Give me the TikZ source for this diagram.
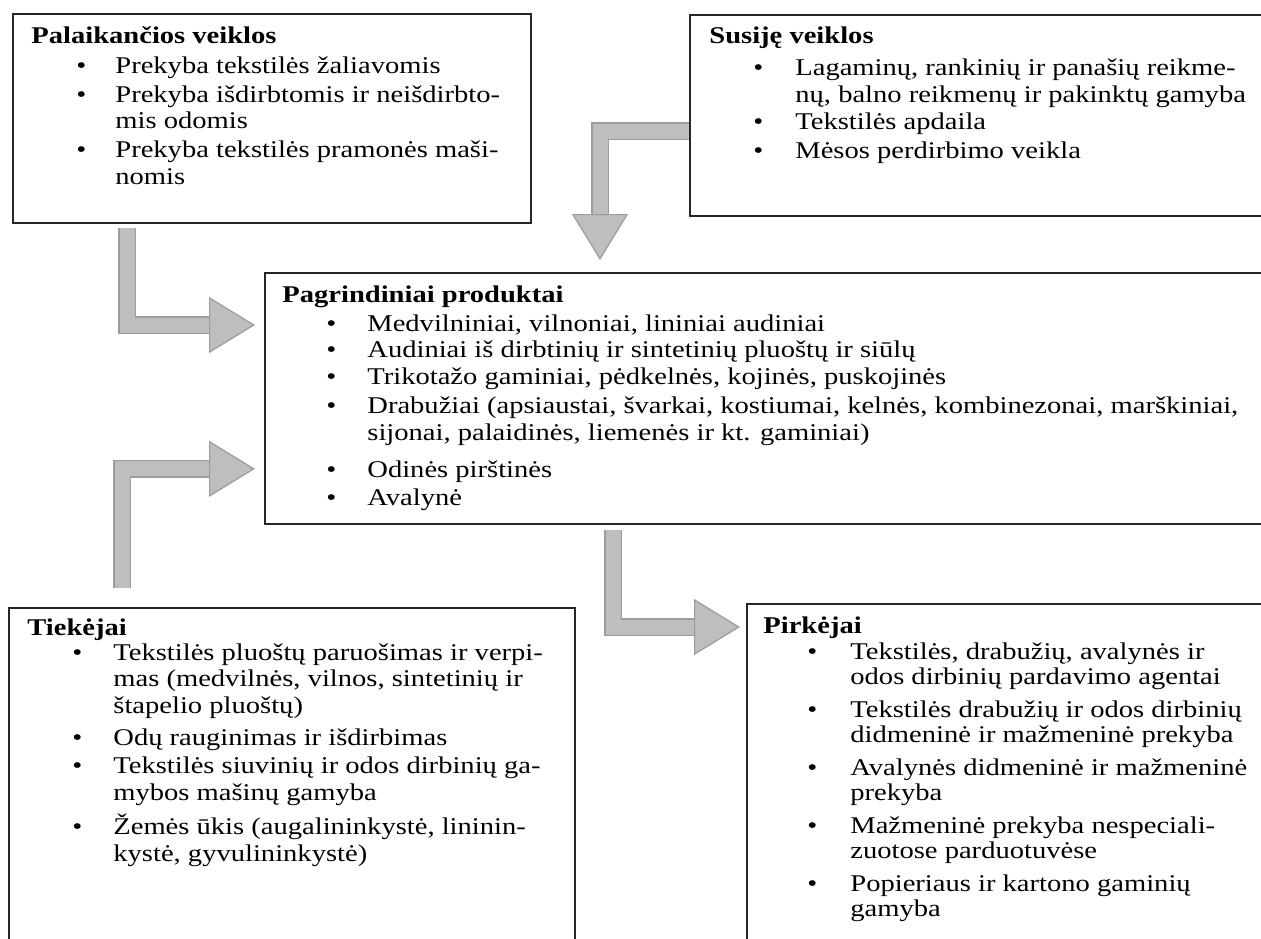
\documentclass[tikz,border=0pt]{standalone}
\usepackage{fontspec}
\setmainfont{Liberation Serif}[FakeStretch=1.19]
\usetikzlibrary{arrows.meta}
\definecolor{arrowfill}{HTML}{BEBEBE}
\definecolor{arrowedge}{HTML}{9C9C9C}

\begin{document}
\begin{tikzpicture}[
      x=0.5pt, y=-0.5pt,
      box/.style={draw=black!85, line width=0.9pt, inner sep=0pt, anchor=north west},
      txt/.style={inner sep=0pt, anchor=base west, font=\fontsize{12}{13.4}\selectfont},
      flow/.style={draw=arrowfill, line width=7.5pt, line join=miter,
        -{Triangle[length=23pt, width=28pt, line width=0.6pt, color=arrowedge, fill=arrowfill]},
        preaction={draw=arrowedge, line width=8.7pt, shorten >=20pt, -}}
    ]

    % page
    \useasboundingbox (0,0) rectangle (1261,938);
    \clip (0,0) rectangle (1261,938);
    \fill[white] (0,0) rectangle (1261,938);

    % boxes
    \node[box, minimum width=259pt, minimum height=104.5pt] (palaik) at (12,13) {};
    \node[box, minimum width=290.5pt, minimum height=100.5pt] (susije) at (689,14) {};
    \node[box, minimum width=503pt, minimum height=125.5pt] (produkt) at (264,272) {};
    \node[box, minimum width=283pt, minimum height=176.5pt] (tiekejai) at (8,607) {};
    \node[box, minimum width=262pt, minimum height=178.5pt] (pirkejai) at (746,603) {};

    % texts
    \node[txt] (palaiktxt) at (31,43) {\begin{tabular}[t]{@{}p{42pt}@{}l@{}}
      \multicolumn{2}{@{}l@{}}{\textbf{Palaikančios veiklos}}\\[1.6pt]
      \hspace*{22.5pt}\textbullet & Prekyba tekstilės žaliavomis\\[1.1pt]
      \hspace*{22.5pt}\textbullet & Prekyba išdirbtomis ir neišdirbto-\\
      & mis odomis\\[1.1pt]
      \hspace*{22.5pt}\textbullet & Prekyba tekstilės pramonės maši-\\
      & nomis
    \end{tabular}};

    \node[txt] (susijetxt) at (709,43) {\begin{tabular}[t]{@{}p{43pt}@{}l@{}}
      \multicolumn{2}{@{}l@{}}{\textbf{Susiję veiklos}}\\[3pt]
      \hspace*{22pt}\textbullet & Lagaminų, rankinių ir panašių reikme-\\
      & nų, balno reikmenų ir pakinktų gamyba\\[0pt]
      \hspace*{22pt}\textbullet & Tekstilės apdaila\\[1.1pt]
      \hspace*{22pt}\textbullet & Mėsos perdirbimo veikla
    \end{tabular}};

    \node[txt] (produkttxt) at (282,302) {\begin{tabular}[t]{@{}p{42.5pt}@{}l@{}}
      \multicolumn{2}{@{}l@{}}{\textbf{Pagrindiniai produktai}}\\[1.1pt]
      \hspace*{22pt}\textbullet & Medvilniniai, vilnoniai, lininiai audiniai\\[0pt]
      \hspace*{22pt}\textbullet & Audiniai iš dirbtinių ir sintetinių pluoštų ir siūlų\\[0pt]
      \hspace*{22pt}\textbullet & Trikotažo gaminiai, pėdkelnės, kojinės, puskojinės\\[1.1pt]
      \hspace*{22pt}\textbullet & Drabužiai (apsiaustai, švarkai, kostiumai, kelnės, kombinezonai, marškiniai,\\
      & sijonai, palaidinės, liemenės ir kt. gaminiai)\\[5pt]
      \hspace*{22pt}\textbullet & Odinės pirštinės\\[0.6pt]
      \hspace*{22pt}\textbullet & Avalynė
    \end{tabular}};

    \node[txt] (tiekejaitxt) at (27,635) {\begin{tabular}[t]{@{}p{43pt}@{}l@{}}
      \multicolumn{2}{@{}l@{}}{\textbf{Tiekėjai}}\\[-0.9pt]
      \hspace*{22.5pt}\textbullet & Tekstilės pluoštų paruošimas ir verpi-\\
      & mas (medvilnės, vilnos, sintetinių ir\\
      & štapelio pluoštų)\\[2.6pt]
      \hspace*{22.5pt}\textbullet & Odų rauginimas ir išdirbimas\\[0.6pt]
      \hspace*{22.5pt}\textbullet & Tekstilės siuvinių ir odos dirbinių ga-\\
      & mybos mašinų gamyba\\[2.6pt]
      \hspace*{22.5pt}\textbullet & Žemės ūkis (augalininkystė, lininin-\\
      & kystė, gyvulininkystė)
    \end{tabular}};

    \node[txt] (pirkejaitxt) at (763,633) {\begin{tabular}[t]{@{}p{43.5pt}@{}l@{}}
      \multicolumn{2}{@{}l@{}}{\textbf{Pirkėjai}}\\[0pt]
      \hspace*{22pt}\textbullet & Tekstilės, drabužių, avalynės ir\\[-0.9pt]
      & odos dirbinių pardavimo agentai\\[3.1pt]
      \hspace*{22pt}\textbullet & Tekstilės drabužių ir odos dirbinių\\[-0.9pt]
      & didmeninė ir mažmeninė prekyba\\[3.1pt]
      \hspace*{22pt}\textbullet & Avalynės didmeninė ir mažmeninė\\[-0.9pt]
      & prekyba\\[3.1pt]
      \hspace*{22pt}\textbullet & Mažmeninė prekyba nespeciali-\\[-0.9pt]
      & zuotose parduotuvėse\\[3.1pt]
      \hspace*{22pt}\textbullet & Popieriaus ir kartono gaminių\\[-0.9pt]
      & gamyba
    \end{tabular}};

    % arrows
    \draw[flow] ([xshift=57.5pt,yshift=-2pt]palaik.south west)
      |- ([xshift=-4.5pt,yshift=-26.5pt]produkt.north west);
    \draw[flow] ([yshift=-58.5pt]susije.north west)
      -| ([xshift=168pt,yshift=6pt]produkt.north west);
    \draw[flow] ([xshift=57pt,yshift=9.5pt]tiekejai.north west)
      |- ([xshift=-4.5pt,yshift=28pt]produkt.south west);
    \draw[flow] ([xshift=174.5pt,yshift=-2.5pt]produkt.south west)
      |- ([xshift=-3pt,yshift=-12pt]pirkejai.north west);
  \end{tikzpicture}
\end{document}
